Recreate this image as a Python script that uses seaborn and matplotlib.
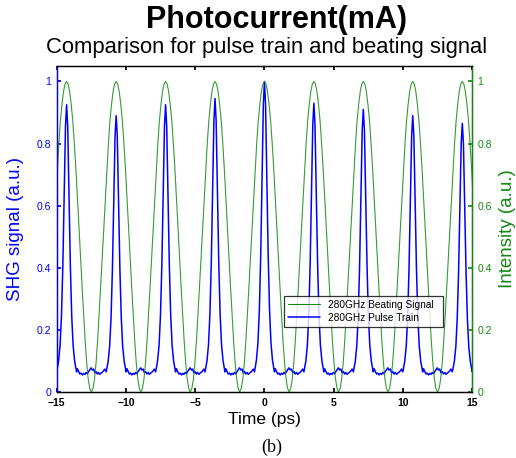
import numpy as np
import pandas as pd
import matplotlib
matplotlib.use("Agg")
import matplotlib.pyplot as plt
import matplotlib.ticker as mticker
from matplotlib.lines import Line2D
import seaborn as sns

sns.set_theme(style="white")
plt.rcParams["font.family"] = ["Liberation Sans", "DejaVu Sans"]
plt.rcParams.update({"text.color": "black", "axes.labelcolor": "black"})

BLUE = "#0000ff"
GREEN = "#118a11"

# ---- data ----
PERIOD = 3.57                      # 280 GHz -> 3.57 ps
peak_times = [-14.29, -10.71, -7.14, -3.57, 0.0, 3.57, 7.14, 10.71, 14.29]
pulse_heights = [0.925, 0.89, 0.925, 0.945, 1.0, 0.93, 0.91, 0.89, 0.865]

# beating signal, half period from a peak (offset ps, intensity); symmetric
beat_half_offsets = [0.0, 0.11, 0.22, 0.33, 0.45, 0.56, 0.67, 0.78, 0.89,
                     1.0, 1.12, 1.23, 1.34, 1.45, 1.56, 1.67, 1.79]
beat_half_values = [1.0, 0.992, 0.968, 0.928, 0.872, 0.80, 0.72, 0.63, 0.535,
                    0.44, 0.34, 0.25, 0.165, 0.095, 0.043, 0.012, 0.0]

# SHG pulse profile (offset ps, fraction of pulse height above baseline)
pulse_offsets = [-0.72, -0.58, -0.47, -0.37, -0.27, -0.17, -0.08, 0.0,
                 0.08, 0.17, 0.27, 0.37, 0.47, 0.58, 0.72]
pulse_shape = [0.0, 0.04, 0.10, 0.21, 0.40, 0.68, 0.92, 1.0,
               0.92, 0.68, 0.40, 0.21, 0.10, 0.04, 0.0]
pulse_base = 0.065

# baseline between two pulses (offset ps after a peak, SHG value)
gap_offsets = [0.78, 0.87, 0.96, 1.05, 1.14, 1.23, 1.32, 1.41, 1.50, 1.59,
               1.68, 1.77, 1.86, 1.95, 2.04, 2.13, 2.22, 2.31, 2.40, 2.49,
               2.58, 2.67, 2.76]
gap_values = [0.075, 0.066, 0.058, 0.061, 0.055, 0.060, 0.057, 0.063, 0.059,
              0.066, 0.072, 0.078, 0.071, 0.074, 0.062, 0.066, 0.058, 0.063,
              0.057, 0.061, 0.064, 0.068, 0.074]


def build_beat():
    offs = [-o for o in beat_half_offsets[::-1]] + beat_half_offsets[1:-1]
    vals = beat_half_values[::-1] + beat_half_values[1:-1]
    t, v = [], []
    for p in peak_times:
        t += [p + o for o in offs]
        v += vals
    t.append(peak_times[-1] + beat_half_offsets[-1])
    v.append(beat_half_values[-1])
    return pd.DataFrame({"t": t, "v": v})


def build_pulses():
    t, v = [], []
    # baseline before first pulse
    t += [peak_times[0] - PERIOD + o for o in gap_offsets]
    v += gap_values
    for p, h in zip(peak_times, pulse_heights):
        t += [p + o for o in pulse_offsets]
        v += [pulse_base + (h - pulse_base) * s for s in pulse_shape]
        t += [p + o for o in gap_offsets]
        v += gap_values
    return pd.DataFrame({"t": t, "v": v})


df_beat = build_beat()
df_pulse = build_pulses()

fig = plt.figure(figsize=(5.16, 4.58), dpi=100)
ax = fig.add_axes([0.110, 0.144, 0.805, 0.712])
ax2 = ax.twinx()

sns.lineplot(data=df_pulse, x="t", y="v", ax=ax, color=BLUE, lw=1.1,
             sort=False, estimator=None)
sns.lineplot(data=df_beat, x="t", y="v", ax=ax2, color=GREEN, lw=0.8,
             sort=False, estimator=None, alpha=0.85)

for a in (ax, ax2):
    a.set_xlim(-15, 15)
    a.set_ylim(0, 1.05)
    a.set_yticks([0, 0.2, 0.4, 0.6, 0.8, 1.0])
    a.yaxis.set_major_formatter(mticker.FuncFormatter(lambda x, _: f"{x:g}"))
    a.set_xlabel("")

ax.set_xticks([-15, -10, -5, 0, 5, 10, 15])
ax.tick_params(axis="x", direction="in", length=3, top=True, bottom=True,
               labelsize=7.5, pad=4, colors="black")
for lab in ax.get_xticklabels():
    lab.set_fontweight("bold")
ax.tick_params(axis="y", direction="in", length=3, left=True, right=False,
               labelsize=7.5, colors=BLUE, pad=4)
ax2.tick_params(axis="y", direction="in", length=3, right=True, left=False,
                labelsize=7.5, colors=GREEN, pad=4)

for a in (ax, ax2):
    for s in a.spines.values():
        s.set_linewidth(0.9)
        s.set_color("black")
ax2.spines["left"].set_color(BLUE)
ax2.spines["right"].set_color(GREEN)
ax.spines["left"].set_color(BLUE)

ax.set_ylabel("SHG signal (a.u.)", color=BLUE, fontsize=13.5, labelpad=9)
ax2.set_ylabel("Intensity (a.u.)", color=GREEN, fontsize=13.5, labelpad=5)
ax.set_xlabel("Time (ps)", fontsize=12.5, labelpad=3, color="black")

handles = [Line2D([], [], color=GREEN, lw=0.8),
           Line2D([], [], color=BLUE, lw=1.1)]
leg = ax2.legend(handles, ["280GHz Beating Signal", "280GHz Pulse Train"],
                 loc="lower left", bbox_to_anchor=(0.546, 0.20, 0.384, 0.10),
                 mode="expand", fontsize=7.3, frameon=True, fancybox=False,
                 handlelength=3.2, borderpad=0.4, labelspacing=0.3,
                 borderaxespad=0)
leg.get_frame().set_edgecolor("black")
leg.get_frame().set_linewidth(0.9)
for txt in leg.get_texts():
    txt.set_color("black")

fig.text(276 / 516, 1 - 20 / 458, "Photocurrent(mA)", ha="center", va="center",
         fontsize=22, fontweight="bold", color="black")
fig.text(267 / 516, 1 - 47 / 458, "Comparison for pulse train and beating signal",
         ha="center", va="center", fontsize=15.8, color="black")
fig.text(272 / 516, 1 - 447 / 458, "(b)", ha="center", va="center",
         fontsize=13, family=["Liberation Serif", "DejaVu Serif"], color="black")

fig.savefig("out.png", dpi=100)
